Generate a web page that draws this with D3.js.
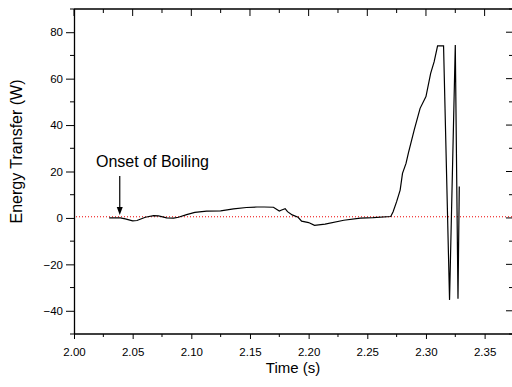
<!DOCTYPE html>
<html><head><meta charset="utf-8">
<script src="https://cdn.jsdelivr.net/npm/d3@7"></script>
<style>body{margin:0;background:#fff}svg{display:block}text{font-family:"Liberation Sans",Arial,sans-serif;fill:#000}</style>
</head><body><div id="chart"></div>
<script>
const time = [2.030,2.0395,2.0437,2.050,2.0537,2.0608,2.0679,2.072,2.079,2.085,2.089,2.096,2.103,2.113,2.125,2.136,2.147,2.156,2.162,2.170,2.175,2.177,2.180,2.182,2.186,2.191,2.194,2.200,2.205,2.214,2.230,2.244,2.255,2.270,2.272,2.275,2.278,2.280,2.283,2.285,2.290,2.295,2.300,2.304,2.307,2.3099,2.3150,2.3201,2.3250,2.3273,2.3284];
const energy = [0,0,-0.4,-1.3,-1.1,0.3,1.0,0.9,0,-0.1,0.3,1.4,2.4,2.9,3.0,3.9,4.5,4.7,4.7,4.6,3.0,3.4,4.0,2.7,1.3,0.3,-1.4,-2.0,-3.2,-2.7,-1.0,-0.1,0.1,0.6,2.7,7.0,12,19.2,23.5,27.9,37.9,47.2,52.3,62.3,67.3,74.1,74.1,-35.3,74.5,-34.8,13.5];
const xTicks = [2.00,2.05,2.10,2.15,2.20,2.25,2.30,2.35];
const yTicks = [-40,-20,0,20,40,60,80];
const refLevel = 0.5;
const annotation = {text:"Onset of Boiling", t:2.039};

const W=512,H=387;
const L=74,R=513,T=9,B=334;
const x=d3.scaleLinear().domain([2.0,2.0+(R-L)/58.66*0.05]).range([L,R]);
const y=d3.scaleLinear().domain([-50,90]).range([B,T]);
const svg=d3.select("#chart").append("svg").attr("width",W).attr("height",H);

const xMinor=d3.range(2.0,2.3751,0.025).map(v=>+v.toFixed(3));
const yMinor=d3.range(-50,91,10);

const gb=svg.append("g").attr("transform",`translate(0,${B})`)
 .call(d3.axisBottom(x).tickValues(xTicks).tickFormat(d3.format(".2f")).tickSize(5).tickSizeOuter(0));
gb.select(".domain").remove();
gb.selectAll("text").attr("font-size",11.5).attr("dy",null).attr("y",22).attr("font-family","Liberation Sans, Arial");
svg.append("g").selectAll("line").data(xMinor.filter(v=>!xTicks.some(t=>Math.abs(t-v)<1e-6)))
 .join("line").attr("x1",d=>x(d)).attr("x2",d=>x(d)).attr("y1",B).attr("y2",B+3).attr("stroke","#000");
svg.append("g").selectAll("line").data(xMinor)
 .join("line").attr("x1",d=>x(d)).attr("x2",d=>x(d)).attr("y1",T).attr("y2",d=>T+(xTicks.some(t=>Math.abs(t-d)<1e-6)?7:4)).attr("stroke","#000");

const gl=svg.append("g").attr("transform",`translate(${L},0)`)
 .call(d3.axisLeft(y).tickValues(yTicks).tickSize(8).tickSizeOuter(0).tickPadding(3));
gl.select(".domain").remove();
gl.selectAll("text").attr("font-size",11.5).attr("font-family","Liberation Sans, Arial");
svg.append("g").selectAll("line").data(yMinor.filter(v=>!yTicks.includes(v)))
 .join("line").attr("x1",L-4).attr("x2",L).attr("y1",d=>y(d)).attr("y2",d=>y(d)).attr("stroke","#000");
svg.append("g").selectAll("line").data(yMinor)
 .join("line").attr("x1",d=>R-(yTicks.includes(d)?7:4)).attr("x2",R).attr("y1",d=>y(d)).attr("y2",d=>y(d)).attr("stroke","#000");

svg.append("path").attr("d",`M${L},${B}H${R}M${L},${T}H${R}M${L+0.5},${T}V${B}M${R},${T}V${B}`)
 .attr("stroke","#000").attr("stroke-width",1.3).attr("fill","none");

svg.append("line").attr("x1",L+2).attr("x2",R).attr("y1",y(refLevel)).attr("y2",y(refLevel))
 .attr("stroke","#e00").attr("stroke-dasharray","1,2").attr("stroke-width",1);

const pts=time.map((t,i)=>[t,energy[i]]);
svg.append("path").datum(pts).attr("fill","none").attr("stroke","#000").attr("stroke-width",1.2)
 .attr("stroke-linejoin","miter").attr("d",d3.line().x(d=>x(d[0])).y(d=>y(d[1])));

svg.append("text").attr("x",96).attr("y",166.5).attr("font-size",16).text(annotation.text);
const ax=x(annotation.t);
svg.append("line").attr("x1",ax).attr("x2",ax).attr("y1",176).attr("y2",208).attr("stroke","#000").attr("stroke-width",1.2);
svg.append("path").attr("d",`M${ax-3},${207}L${ax+3},${207}L${ax},${215}Z`).attr("fill","#000");

svg.append("text").attr("x",293).attr("y",373).attr("text-anchor","middle").attr("font-size",15).text("Time (s)");
svg.append("text").attr("transform","translate(21.7,151.5) rotate(-90)").attr("text-anchor","middle").attr("font-size",16).text("Energy Transfer (W)");
</script></body></html>
